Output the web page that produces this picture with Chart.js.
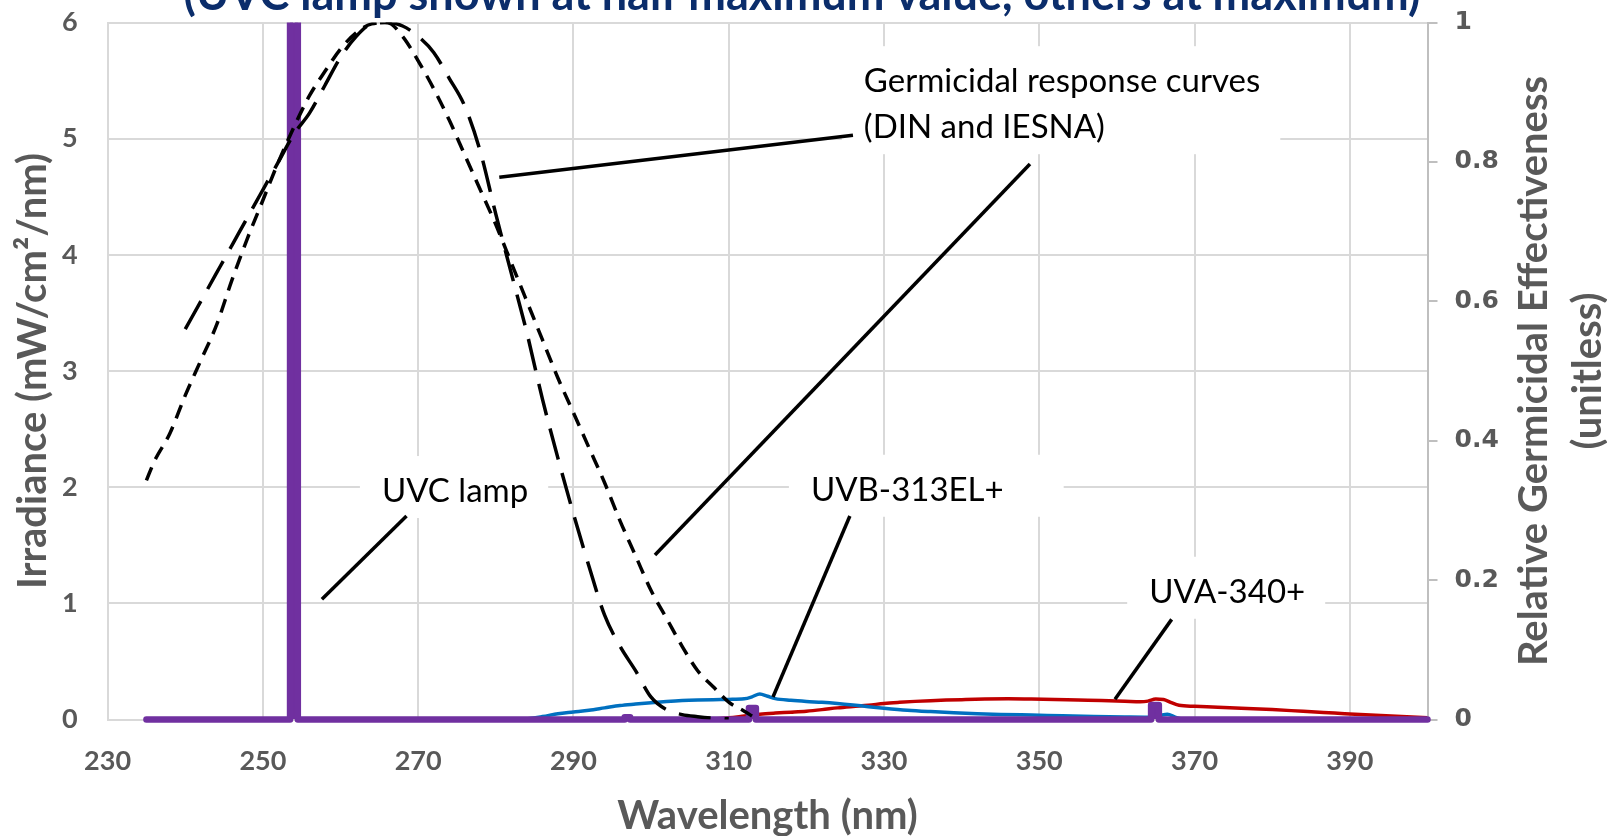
<!DOCTYPE html>
<html>
<head>
<meta charset="utf-8">
<title>Germicidal response and lamp spectra</title>
<script src="https://cdn.jsdelivr.net/npm/chart.js@4.4.1/dist/chart.umd.min.js"></script>
<style>
  body { margin: 0; background: #ffffff; }
  canvas { display: block; }
</style>
</head>
<body>
<canvas id="myChart" width="1607" height="836"></canvas>
<script>
/*//////////////////////////////////////////////////////
//                 DATA                               //
//////////////////////////////////////////////////////*/

// germicidal response, DIN (long dash), relative 0..1
const dinWavelengths = [240, 242, 244, 246, 248, 250, 252, 254, 256, 258, 260, 262, 264, 266, 268, 270, 272, 274, 276, 278,
                        280, 282, 284, 286, 288, 290, 292, 294, 296, 298, 300, 302, 304, 306, 308, 310];
const dinValues = [0.56, 0.60, 0.64, 0.68, 0.72, 0.76, 0.80, 0.84, 0.87, 0.91, 0.95, 0.98, 0.998, 1.0, 0.995, 0.98, 0.957, 0.92, 0.88, 0.815,
                   0.725, 0.64, 0.555, 0.46, 0.375, 0.295, 0.22, 0.15, 0.105, 0.07, 0.032, 0.014, 0.007, 0.004, 0.002, 0.001];

// germicidal response, IESNA (short dash), relative 0..1
const iesnaWavelengths = [235, 236, 238, 240, 242, 244, 246, 248, 250, 252, 254, 256, 258, 260, 262, 264, 266, 268, 270, 272,
                          274, 276, 278, 280, 282, 284, 286, 288, 290, 292, 294, 296, 298, 300, 302, 304, 306, 308, 310, 312, 313];
const iesnaValues = [0.343, 0.37, 0.41, 0.465, 0.515, 0.565, 0.63, 0.69, 0.745, 0.80, 0.85, 0.895, 0.93, 0.962, 0.985, 0.998, 1.0, 0.98, 0.945, 0.905,
                     0.86, 0.81, 0.76, 0.71, 0.655, 0.60, 0.545, 0.49, 0.44, 0.39, 0.34, 0.285, 0.235, 0.185, 0.145, 0.105, 0.07, 0.047, 0.025, 0.012, 0.005];

// UVC lamp irradiance (mW/cm2/nm), half maximum, the 254 line runs off the top
const lampWavelengths = [235, 253.5, 253.5, 254.5, 254.5, 296.6, 296.6, 297.3, 297.3, 312.6, 312.6, 313.5, 313.5, 364.4, 364.4, 365.4, 365.4, 400];
const lampIrradiance = [0, 0, 6.6, 6.6, 0, 0, 0.02, 0.02, 0, 0, 0.10, 0.10, 0, 0, 0.125, 0.125, 0, 0];

// UVB-313EL+ irradiance
const uvbWavelengths = [280, 283, 286, 288, 290, 292, 294, 296, 298, 300, 302, 304, 306, 308, 310, 312, 313, 314, 315, 316,
                        318, 320, 322, 324, 326, 328, 330, 333, 336, 339, 342, 345, 349, 353, 357, 361, 364, 365.5, 366.5, 367.5, 368.5];
const uvbIrradiance = [0, 0.002, 0.025, 0.05, 0.065, 0.08, 0.1, 0.12, 0.133, 0.145, 0.155, 0.163, 0.168, 0.171, 0.173, 0.178, 0.195, 0.22, 0.2, 0.18,
                       0.165, 0.155, 0.148, 0.138, 0.125, 0.11, 0.097, 0.08, 0.068, 0.058, 0.05, 0.044, 0.038, 0.032, 0.026, 0.022, 0.02, 0.035, 0.045, 0.02, 0];

// UVA-340+ irradiance
const uvaWavelengths = [306, 308, 310, 312, 314, 316, 318, 320, 322, 324, 326, 328, 330, 332, 334, 336, 338, 340, 343, 346,
                        349, 352, 355, 358, 361, 363, 364, 365, 366, 367, 368, 370, 373, 376, 380, 384, 388, 392, 396, 400];
const uvaIrradiance = [0, 0.005, 0.015, 0.03, 0.045, 0.055, 0.063, 0.072, 0.085, 0.1, 0.112, 0.123, 0.138, 0.148, 0.156, 0.162, 0.167, 0.171, 0.176, 0.178,
                       0.176, 0.172, 0.167, 0.163, 0.157, 0.152, 0.158, 0.176, 0.172, 0.145, 0.122, 0.114, 0.106, 0.097, 0.086, 0.07, 0.055, 0.04, 0.027, 0.015];

const xTickValues = [230, 250, 270, 290, 310, 330, 350, 370, 390];

const titleText = '(UVC lamp shown at half maximum value, others at maximum)';
const xTitle = 'Wavelength (nm)';
const yTitle = 'Irradiance (mW/cm\u00B2/nm)';
const y1TitleLines = ['Relative Germicidal Effectiveness', '(unitless)'];

/*//////////////////////////////////////////////////////
//                 STYLE                              //
//////////////////////////////////////////////////////*/

const GRAY_TEXT = '#595959';
const GRID = '#D9D9D9';
const PURPLE = '#7030A0';
const BLUE = '#0070C0';
const RED = '#C00000';
const NAVY = '#0B2D6B';

const LABEL_FONT = '33px Lato';
const LABEL_LINE = 46;

// callout labels, placed in (wavelength, irradiance) units, value = baseline of first line
const callouts = [
    { lines: ['Germicidal response curves', '(DIN and IESNA)'], wl: 327.4, value: 5.40, align: 'left', padRight: 20 },
    { lines: ['UVC lamp'], wl: 274.75, value: 1.872, align: 'center', padRight: 20 },
    { lines: ['UVB-313EL+'], wl: 333.0, value: 1.883, align: 'center', padRight: 60 },
    { lines: ['UVA-340+'], wl: 374.2, value: 1.005, align: 'center', padRight: 20 }
];

const leaderLines = [
    [[280.45, 4.667], [326.0, 5.03]],
    [[300.5, 1.416], [348.8, 4.782]],
    [[257.6, 1.035], [268.5, 1.752]],
    [[315.7, 0.194], [325.6, 1.752]],
    [[359.75, 0.174], [367.05, 0.862]]
];

function toPoints(xs, ys) {
    let pts = [];
    for (var i = 0; i < xs.length; i++) {
        pts.push({ x: xs[i], y: ys[i] });
    }
    return pts;
}

const extrasPlugin = {
    id: 'extras',
    afterDatasetsDraw(chart) {
        const ctx = chart.ctx;
        const xs = chart.scales.x;
        const ys = chart.scales.y;

        ctx.save();
        ctx.font = LABEL_FONT;
        ctx.textBaseline = 'alphabetic';
        ctx.textAlign = 'left';

        callouts.forEach(function (c) {
            let px = xs.getPixelForValue(c.wl);
            let py = ys.getPixelForValue(c.value);
            let w = 0;
            c.lines.forEach(function (t) { w = Math.max(w, ctx.measureText(t).width); });
            let left = c.align === 'left' ? px : px - w / 2;

            ctx.fillStyle = '#ffffff';
            ctx.fillRect(left - 22, py - 46, w + 22 + c.padRight, 62 + (c.lines.length - 1) * LABEL_LINE);

            ctx.fillStyle = '#000000';
            c.lines.forEach(function (t, i) {
                ctx.fillText(t, left, py + i * LABEL_LINE);
            });
        });

        ctx.strokeStyle = '#000000';
        ctx.lineWidth = 3.5;
        leaderLines.forEach(function (l) {
            ctx.beginPath();
            ctx.moveTo(xs.getPixelForValue(l[0][0]), ys.getPixelForValue(l[0][1]));
            ctx.lineTo(xs.getPixelForValue(l[1][0]), ys.getPixelForValue(l[1][1]));
            ctx.stroke();
        });
        ctx.restore();
    },
    afterDraw(chart) {
        const ctx = chart.ctx;
        const area = chart.chartArea;

        ctx.save();
        // title, its upper part falls outside the picture
        ctx.font = 'bold 45px Lato';
        ctx.fillStyle = NAVY;
        ctx.textAlign = 'center';
        ctx.textBaseline = 'alphabetic';
        ctx.fillText(titleText, 802, 10);

        // secondary axis title, read bottom to top
        ctx.font = 'bold 40px Lato';
        ctx.fillStyle = GRAY_TEXT;
        ctx.textBaseline = 'middle';
        let cy = (area.top + area.bottom) / 2;
        let xsTitle = [1534, 1588];
        y1TitleLines.forEach(function (t, i) {
            ctx.save();
            ctx.translate(xsTitle[i], cy);
            ctx.rotate(-Math.PI / 2);
            ctx.fillText(t, 0, 0);
            ctx.restore();
        });
        ctx.restore();
    }
};

/*//////////////////////////////////////////////////////
//                 CHART                              //
//////////////////////////////////////////////////////*/

function crearGrafico() {
    let ctx = document.getElementById('myChart').getContext('2d');

    let tickFont = { family: 'Lato', size: 27, weight: 'bold' };
    let titleFont = { family: 'Lato', size: 40, weight: 'bold', lineHeight: 1 };

    new Chart(ctx, {
        type: 'line',
        data: {
            datasets: [
                {
                    label: 'DIN',
                    data: toPoints(dinWavelengths, dinValues),
                    yAxisID: 'y1',
                    borderColor: '#000000',
                    borderWidth: 3.5,
                    borderDash: [32, 14],
                    fill: false,
                    cubicInterpolationMode: 'monotone'
                },
                {
                    label: 'IESNA',
                    data: toPoints(iesnaWavelengths, iesnaValues),
                    yAxisID: 'y1',
                    borderColor: '#000000',
                    borderWidth: 3.5,
                    borderDash: [14, 9],
                    fill: false,
                    cubicInterpolationMode: 'monotone'
                },
                {
                    label: 'UVC lamp',
                    data: toPoints(lampWavelengths, lampIrradiance),
                    yAxisID: 'y',
                    borderColor: PURPLE,
                    backgroundColor: PURPLE,
                    borderWidth: 6.5,
                    borderJoinStyle: 'round',
                    borderCapStyle: 'round',
                    fill: 'origin',
                    tension: 0,
                    clip: { left: 5, top: 0, right: 5, bottom: 5 }
                },
                {
                    label: 'UVB-313EL+',
                    data: toPoints(uvbWavelengths, uvbIrradiance),
                    yAxisID: 'y',
                    borderColor: BLUE,
                    borderWidth: 3.5,
                    fill: false,
                    cubicInterpolationMode: 'monotone'
                },
                {
                    label: 'UVA-340+',
                    data: toPoints(uvaWavelengths, uvaIrradiance),
                    yAxisID: 'y',
                    borderColor: RED,
                    borderWidth: 3.5,
                    fill: false,
                    cubicInterpolationMode: 'monotone'
                }
            ]
        },
        options: {
            responsive: false,
            animation: false,
            layout: { padding: { top: 22.5, left: 0, right: 0, bottom: 0 } },
            elements: { point: { radius: 0 } },
            plugins: {
                legend: { display: false },
                tooltip: { enabled: false }
            },
            scales: {
                x: {
                    type: 'linear',
                    min: 230,
                    max: 400,
                    afterBuildTicks: function (scale) {
                        scale.ticks = xTickValues.map(function (v) { return { value: v }; });
                    },
                    afterFit: function (scale) {
                        scale.height = 116.5;
                        scale.paddingLeft = 0;
                        scale.paddingRight = 0;
                    },
                    grid: { color: GRID, lineWidth: 2, drawTicks: false },
                    border: { display: false },
                    ticks: { font: tickFont, color: GRAY_TEXT, padding: 26, maxRotation: 0 },
                    title: { display: true, text: xTitle, color: GRAY_TEXT, font: titleFont, padding: { top: 0, bottom: 0 } }
                },
                y: {
                    position: 'left',
                    min: 0,
                    max: 6,
                    afterFit: function (scale) {
                        scale.width = 107.6;
                        scale.paddingTop = 0;
                        scale.paddingBottom = 0;
                    },
                    grid: { color: GRID, lineWidth: 2, drawTicks: false },
                    border: { color: GRID, width: 2 },
                    ticks: { stepSize: 1, font: tickFont, color: GRAY_TEXT, padding: 30 },
                    title: { display: true, text: yTitle, color: GRAY_TEXT, font: titleFont, padding: { top: 13, bottom: 0 } }
                },
                y1: {
                    position: 'right',
                    min: 0,
                    max: 1,
                    afterFit: function (scale) {
                        scale.width = 179.5;
                        scale.paddingTop = 0;
                        scale.paddingBottom = 0;
                    },
                    grid: { drawOnChartArea: false, drawTicks: true, tickLength: 10, color: '#BFBFBF', lineWidth: 2 },
                    border: { color: '#BFBFBF', width: 2 },
                    ticks: {
                        stepSize: 0.2,
                        font: { family: 'DejaVu Sans', size: 25, weight: 'bold' },
                        color: GRAY_TEXT,
                        padding: 17,
                        callback: function (v) { return String(Math.round(v * 10) / 10); }
                    }
                }
            }
        },
        plugins: [extrasPlugin]
    });
}

crearGrafico();
</script>
</body>
</html>
